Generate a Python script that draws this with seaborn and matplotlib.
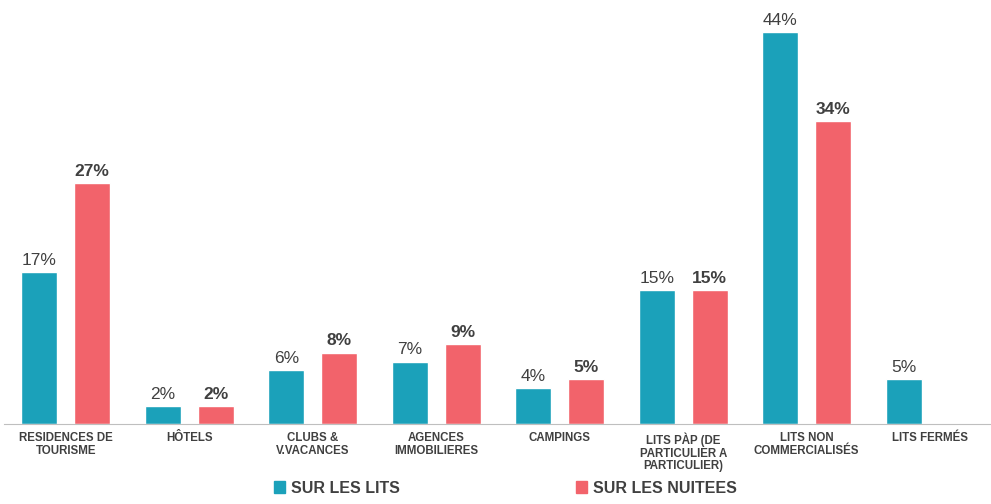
import numpy as np
import pandas as pd
import matplotlib.pyplot as plt
import seaborn as sb

categories = ["RESIDENCES DE\nTOURISME", "HÔTELS", "CLUBS &\nV.VACANCES", "AGENCES\nIMMOBILIERES",
              "CAMPINGS", "LITS PÀP (DE\nPARTICULIER A\nPARTICULIER)", "LITS NON\nCOMMERCIALISÉS", "LITS FERMÉS"]
lits = [17, 2, 6, 7, 4, 15, 44, 5]
nuitees = [27, 2, 8, 9, 5, 15, 34, np.nan]
series = ["SUR LES LITS", "SUR LES NUITEES"]
colors = ["#1BA1BA", "#F2636B"]

df = pd.DataFrame({
    "cat": categories * 2,
    "serie": [series[0]] * 8 + [series[1]] * 8,
    "val": lits + nuitees,
}).dropna()

sb.set_style("white")
plt.rcParams['font.family'] = ['Liberation Sans', 'DejaVu Sans']
fig = plt.figure(figsize=(9.91, 5.04), dpi=100)
ax = fig.add_axes([0.004, 0.159, 0.997, 0.841])
sb.barplot(data=df, x="cat", y="val", hue="serie", order=categories, palette=colors,
           width=0.857, gap=0.32, saturation=1, ax=ax, legend=False)

for i, cont in enumerate(ax.containers):
    vals = [v for v in (lits if i == 0 else nuitees) if not np.isnan(v)]
    ax.bar_label(cont, labels=[f"{v:.0f}%" for v in vals], padding=3, fontsize=12.5, color="#404040",
                 fontweight="normal" if i == 0 else "bold")

ax.set_xlim(-0.5, 7.5)
ax.set_ylim(0, 47.6)
ax.set_yticks([])
ax.set_xlabel("")
ax.set_ylabel("")
for s in ["top", "left", "right"]:
    ax.spines[s].set_visible(False)
ax.spines["bottom"].set_color("#BFBFBF")
ax.tick_params(axis="x", length=0, pad=6)
ax.set_xticks(range(8))
ax.set_xticklabels(categories, fontsize=8.3, fontweight="bold", color="#404040", linespacing=1.1)
ax.set_xticks(np.arange(0.5, 7.5, 1), minor=True)
ax.tick_params(axis="x", which="minor", length=6, color="#BFBFBF", direction="out")

handles = [plt.Rectangle((0, 0), 1, 1, color=c) for c in colors]
fig.legend(handles, series, loc="lower center", bbox_to_anchor=(0.51, -0.012), ncol=2,
           frameon=False, columnspacing=11, handlelength=0.7, handleheight=0.7, handletextpad=0.4,
           prop={"weight": "bold", "size": 11.5}, labelcolor="#404040")

fig.savefig("out.png", dpi=100)
